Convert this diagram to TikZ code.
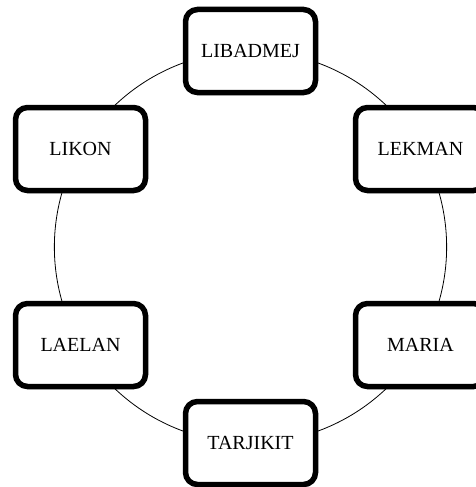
\documentclass[tikz,border=0pt]{standalone}
\usepackage{fontspec}
\setmainfont{Liberation Serif}
\usetikzlibrary{shadows,backgrounds}
\tikzset{
  box/.style={draw, line width=5.5pt, rounded corners=12pt, fill=white,
    minimum width=130pt, minimum height=83pt, inner sep=0pt,
    font=\fontsize{20}{24}\selectfont,
    drop shadow={shadow xshift=1.5pt, shadow yshift=-2.5pt, opacity=0.3, fill=black}},
  ring/.style={line width=0.8pt, looseness=0.912},
}
\begin{document}
\begin{tikzpicture}[x=1pt,y=-1pt]
\useasboundingbox (0,0) rectangle (476,487);
\node[box] (lib) at (250.5,51) {LIBADMEJ};
\node[box] (lek) at (420.5,149) {LEKMAN};
\node[box] (mar) at (420.5,345) {MARIA};
\node[box] (tar) at (250.5,443) {TARJIKIT};
\node[box] (lae) at (80.5,345) {LAELAN};
\node[box] (lik) at (80.5,149) {LIKON};
\begin{pgfonlayer}{background}
\draw[ring] (lib.center) to[bend left=30] (lek.center);
\draw[ring] (lek.center) to[bend left=30] (mar.center);
\draw[ring] (mar.center) to[bend left=30] (tar.center);
\draw[ring] (tar.center) to[bend left=30] (lae.center);
\draw[ring] (lae.center) to[bend left=30] (lik.center);
\draw[ring] (lik.center) to[bend left=30] (lib.center);
\end{pgfonlayer}
\end{tikzpicture}
\end{document}
